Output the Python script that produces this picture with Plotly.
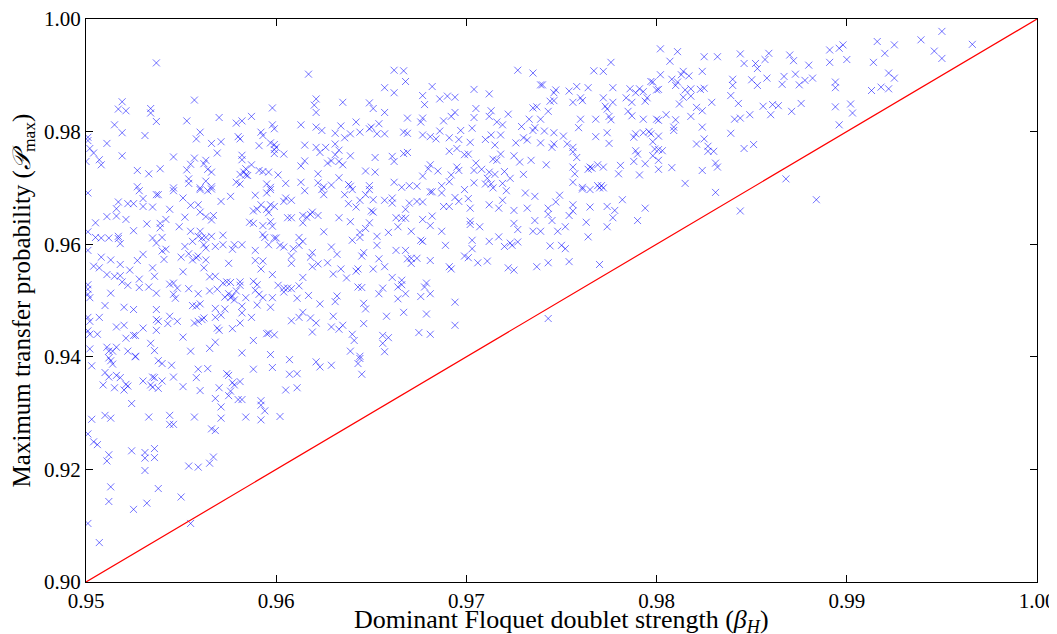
import plotly.graph_objects as go

# (beta_H, P_max) pairs, grouped by region
upper_left = [
(0.9537,0.9922),(0.9519,0.9853),(0.9517,0.9840),(0.9521,0.9837),(0.9534,0.9841),(0.9534,0.9833),
(0.9537,0.9818),(0.9557,0.9856),(0.9553,0.9819),(0.9570,0.9825),(0.9579,0.9815),(0.9582,0.9819),
(0.9587,0.9827),(0.9598,0.9842),(0.9515,0.9812),(0.9519,0.9798),(0.9531,0.9793),(0.9560,0.9799),
(0.9558,0.9787),(0.9580,0.9791),(0.9581,0.9787),(0.9592,0.9799),(0.9593,0.9793),(0.9598,0.9812),
(0.9599,0.9805),(0.9501,0.9790),(0.9501,0.9784),(0.9511,0.9779),(0.9502,0.9770),(0.9504,0.9762),
(0.9507,0.9750),(0.9508,0.9741),(0.9500,0.9747),(0.9519,0.9757),(0.9546,0.9755),(0.9566,0.9779),
(0.9571,0.9782),(0.9569,0.9762),(0.9591,0.9775),(0.9597,0.9780),(0.9599,0.9777),(0.9599,0.9768),
(0.9599,0.9761),(0.9557,0.9753),(0.9555,0.9742),(0.9563,0.9749),(0.9562,0.9743),(0.9553,0.9732),
(0.9564,0.9733),(0.9566,0.9728),(0.9582,0.9758),(0.9582,0.9750),(0.9587,0.9741),(0.9584,0.9734),
(0.9583,0.9728),(0.9581,0.9724),(0.9584,0.9723),(0.9585,0.9722),(0.9591,0.9731),(0.9593,0.9729),
(0.9596,0.9728),(0.9527,0.9731),(0.9533,0.9725),(0.9539,0.9734),(0.9554,0.9716),(0.9554,0.9708),
(0.9563,0.9712),(0.9560,0.9700),(0.9566,0.9702),(0.9579,0.9710),(0.9581,0.9707),(0.9595,0.9707),
(0.9597,0.9701),(0.9527,0.9702),(0.9546,0.9700),
]

middle_left = [
(0.9528,0.9695),(0.9537,0.9688),(0.9538,0.9688),(0.9546,0.9695),(0.9560,0.9697),(0.9564,0.9695),
(0.9566,0.9698),(0.9501,0.9691),(0.9576,0.9685),(0.9589,0.9687),(0.9595,0.9691),(0.9597,0.9697),
(0.9517,0.9675),(0.9516,0.9663),(0.9522,0.9672),(0.9525,0.9672),(0.9530,0.9681),(0.9530,0.9667),
(0.9535,0.9666),(0.9544,0.9662),(0.9551,0.9682),(0.9555,0.9669),(0.9559,0.9670),(0.9560,0.9657),
(0.9563,0.9649),(0.9567,0.9651),(0.9566,0.9643),(0.9571,0.9676),(0.9588,0.9659),(0.9590,0.9662),
(0.9592,0.9670),(0.9595,0.9662),(0.9596,0.9656),(0.9597,0.9670),(0.9599,0.9667),(0.9511,0.9649),
(0.9516,0.9650),(0.9521,0.9644),(0.9505,0.9638),(0.9532,0.9636),(0.9539,0.9637),(0.9542,0.9644),
(0.9539,0.9629),(0.9549,0.9631),(0.9552,0.9648),(0.9586,0.9639),(0.9588,0.9637),(0.9593,0.9633),
(0.9597,0.9640),(0.9598,0.9632),(0.9501,0.9622),(0.9505,0.9612),(0.9508,0.9611),(0.9512,0.9611),
(0.9517,0.9614),(0.9517,0.9610),(0.9518,0.9601),(0.9525,0.9624),(0.9535,0.9611),(0.9537,0.9602),
(0.9540,0.9612),(0.9540,0.9588),(0.9542,0.9591),(0.9555,0.9623),(0.9556,0.9605),(0.9560,0.9623),
(0.9559,0.9614),(0.9561,0.9611),(0.9563,0.9612),(0.9566,0.9614),(0.9562,0.9599),(0.9563,0.9593),
(0.9568,0.9596),(0.9572,0.9616),(0.9572,0.9599),(0.9577,0.9591),(0.9578,0.9599),(0.9582,0.9599),
(0.9589,0.9589),(0.9593,0.9617),(0.9594,0.9612),(0.9596,0.9599),(0.9599,0.9611),(0.9501,0.9589),
(0.9508,0.9577),(0.9513,0.9572),(0.9518,0.9564),(0.9527,0.9571),(0.9530,0.9582),(0.9541,0.9573),
(0.9550,0.9577),(0.9552,0.9596),(0.9554,0.9583),(0.9556,0.9572),(0.9558,0.9576),(0.9559,0.9579),
(0.9563,0.9572),(0.9562,0.9558),(0.9575,0.9566),(0.9589,0.9571),(0.9592,0.9556),(0.9593,0.9570),
(0.9598,0.9546),(0.9504,0.9561),(0.9507,0.9558),(0.9523,0.9554),(0.9535,0.9558),(0.9536,0.9543),
(0.9551,0.9551),(0.9511,0.9546),(0.9515,0.9543),(0.9518,0.9544),(0.9519,0.9533),(0.9528,0.9538),
(0.9528,0.9523),(0.9522,0.9527),(0.9533,0.9524),(0.9537,0.9513),(0.9544,0.9529),(0.9546,0.9531),
(0.9548,0.9522),(0.9546,0.9511),(0.9547,0.9504),(0.9554,0.9521),(0.9559,0.9512),(0.9565,0.9542),
(0.9568,0.9543),(0.9565,0.9517),(0.9569,0.9520),(0.9572,0.9531),(0.9574,0.9533),(0.9576,0.9532),
(0.9581,0.9533),(0.9581,0.9527),(0.9579,0.9517),(0.9573,0.9506),(0.9575,0.9512),(0.9576,0.9505),
(0.9577,0.9508),(0.9578,0.9501),(0.9584,0.9505),(0.9588,0.9534),(0.9590,0.9528),(0.9589,0.9518),
(0.9591,0.9511),(0.9593,0.9505),(0.9598,0.9505),(0.9501,0.9528),(0.9501,0.9520),(0.9501,0.9511),
(0.9502,0.9505),(0.9513,0.9513),(0.9510,0.9491),(0.9520,0.9488),(0.9525,0.9484),(0.9537,0.9484),
(0.9556,0.9491),(0.9560,0.9494),(0.9558,0.9490),(0.9568,0.9486),(0.9573,0.9485),(0.9582,0.9490),
(0.9582,0.9478),(0.9590,0.9492),(0.9597,0.9488),(0.9501,0.9470),(0.9502,0.9463),(0.9507,0.9470),
(0.9537,0.9466),(0.9538,0.9463),(0.9544,0.9472),(0.9543,0.9459),(0.9548,0.9463),(0.9557,0.9460),
(0.9559,0.9463),(0.9561,0.9466),(0.9562,0.9469),(0.9568,0.9470),(0.9569,0.9451),(0.9571,0.9474),
(0.9570,0.9447),(0.9581,0.9460),(0.9587,0.9470),(0.9516,0.9453),(0.9520,0.9456),(0.9530,0.9451),
(0.9537,0.9447),(0.9501,0.9446),(0.9502,0.9440),(0.9506,0.9440),(0.9521,0.9433),(0.9525,0.9438),
(0.9526,0.9438),(0.9551,0.9435),(0.9577,0.9450),(0.9588,0.9429),(0.9595,0.9441),(0.9596,0.9442),
(0.9599,0.9439),(0.9502,0.9414),(0.9511,0.9417),(0.9512,0.9410),(0.9514,0.9410),(0.9516,0.9417),
(0.9522,0.9410),(0.9526,0.9401),(0.9534,0.9424),(0.9536,0.9411),(0.9555,0.9410),(0.9565,0.9415),
(0.9568,0.9426),(0.9582,0.9407),(0.9597,0.9404),
]

lower_left = [
(0.9512,0.9398),(0.9513,0.9393),(0.9514,0.9387),(0.9526,0.9400),(0.9503,0.9384),(0.9538,0.9393),
(0.9540,0.9388),(0.9545,0.9385),(0.9559,0.9378),(0.9564,0.9379),(0.9574,0.9370),(0.9575,0.9367),
(0.9588,0.9378),(0.9598,0.9381),(0.9510,0.9372),(0.9512,0.9364),(0.9516,0.9367),(0.9518,0.9363),
(0.9530,0.9357),(0.9535,0.9364),(0.9536,0.9363),(0.9540,0.9357),(0.9546,0.9364),(0.9558,0.9363),
(0.9581,0.9356),(0.9577,0.9354),(0.9578,0.9350),(0.9509,0.9350),(0.9515,0.9345),(0.9520,0.9341),
(0.9521,0.9351),(0.9522,0.9348),(0.9534,0.9350),(0.9535,0.9346),(0.9538,0.9344),(0.9551,0.9347),
(0.9560,0.9340),(0.9570,0.9345),(0.9576,0.9339),(0.9575,0.9331),(0.9580,0.9324),(0.9582,0.9324),
(0.9568,0.9326),(0.9571,0.9311),(0.9592,0.9322),(0.9592,0.9314),(0.9594,0.9304),(0.9524,0.9317),
(0.9503,0.9289),(0.9510,0.9296),(0.9513,0.9291),(0.9533,0.9293),(0.9544,0.9296),(0.9544,0.9280),
(0.9546,0.9280),(0.9557,0.9293),(0.9571,0.9291),(0.9584,0.9293),(0.9592,0.9288),(0.9566,0.9272),
(0.9568,0.9269),(0.9501,0.9263),(0.9504,0.9249),(0.9506,0.9244),(0.9512,0.9226),(0.9511,0.9215),
(0.9524,0.9233),(0.9531,0.9230),(0.9531,0.9220),(0.9536,0.9237),(0.9536,0.9221),(0.9531,0.9198),
(0.9554,0.9206),(0.9559,0.9204),(0.9565,0.9211),(0.9567,0.9222),(0.9513,0.9169),(0.9512,0.9143),
(0.9538,0.9166),(0.9550,0.9151),(0.9525,0.9129),(0.9532,0.9140),(0.9501,0.9104),(0.9555,0.9104),
(0.9507,0.9070),
(0.9607,0.9395),(0.9621,0.9391),(0.9623,0.9382),(0.9629,0.9385),(0.9644,0.9397),(0.9643,0.9388),
(0.9607,0.9369),(0.9611,0.9370),(0.9645,0.9369),(0.9605,0.9341),(0.9611,0.9345),(0.9602,0.9294),
]

upper_centre = [
(0.9617,0.9902),(0.9662,0.9909),(0.9667,0.9908),(0.9668,0.9889),(0.9657,0.9878),(0.9662,0.9869),
(0.9682,0.9880),(0.9677,0.9864),(0.9678,0.9848),(0.9686,0.9858),(0.9690,0.9863),(0.9694,0.9861),
(0.9621,0.9858),(0.9620,0.9847),(0.9621,0.9834),(0.9635,0.9852),(0.9649,0.9851),(0.9651,0.9841),
(0.9657,0.9834),(0.9613,0.9812),(0.9621,0.9808),(0.9624,0.9802),(0.9634,0.9810),(0.9631,0.9797),
(0.9636,0.9789),(0.9639,0.9796),(0.9642,0.9817),(0.9644,0.9799),(0.9649,0.9805),(0.9650,0.9808),
(0.9654,0.9814),(0.9653,0.9796),(0.9657,0.9796),(0.9669,0.9824),(0.9667,0.9799),(0.9669,0.9797),
(0.9677,0.9824),(0.9676,0.9817),(0.9677,0.9794),(0.9681,0.9791),(0.9684,0.9787),(0.9686,0.9801),
(0.9688,0.9819),(0.9692,0.9827),(0.9694,0.9834),(0.9697,0.9802),(0.9691,0.9789),(0.9696,0.9786),
(0.9600,0.9772),(0.9604,0.9760),(0.9615,0.9776),(0.9621,0.9772),(0.9626,0.9772),(0.9623,0.9763),
(0.9631,0.9778),(0.9633,0.9767),(0.9631,0.9759),(0.9639,0.9757),(0.9652,0.9754),(0.9661,0.9756),
(0.9662,0.9747),(0.9667,0.9761),(0.9669,0.9763),(0.9613,0.9739),(0.9615,0.9748),(0.9627,0.9744),
(0.9629,0.9748),(0.9633,0.9747),(0.9635,0.9741),(0.9691,0.9765),(0.9695,0.9770),(0.9699,0.9759),
(0.9601,0.9723),(0.9622,0.9725),(0.9633,0.9718),(0.9647,0.9730),(0.9652,0.9728),(0.9681,0.9741),
(0.9680,0.9734),(0.9685,0.9730),(0.9677,0.9721),(0.9692,0.9723),(0.9695,0.9737),(0.9696,0.9731),
(0.9605,0.9708),(0.9613,0.9710),(0.9622,0.9709),(0.9625,0.9702),(0.9629,0.9705),(0.9638,0.9706),
(0.9639,0.9703),(0.9649,0.9704),(0.9662,0.9710),(0.9666,0.9701),(0.9670,0.9704),(0.9674,0.9703),
(0.9687,0.9704),(0.9691,0.9711),
]

middle_centre = [
(0.9615,0.9695),(0.9624,0.9697),(0.9625,0.9688),(0.9636,0.9688),(0.9647,0.9688),(0.9649,0.9697),
(0.9640,0.9697),(0.9605,0.9682),(0.9604,0.9676),(0.9608,0.9678),(0.9638,0.9672),(0.9642,0.9666),
(0.9644,0.9678),(0.9651,0.9679),(0.9657,0.9678),(0.9661,0.9682),(0.9661,0.9673),(0.9670,0.9673),
(0.9668,0.9662),(0.9674,0.9676),(0.9677,0.9675),(0.9681,0.9693),(0.9682,0.9693),(0.9687,0.9691),
(0.9694,0.9683),(0.9696,0.9676),(0.9688,0.9667),(0.9691,0.9667),(0.9699,0.9697),(0.9606,0.9647),
(0.9608,0.9647),(0.9614,0.9651),(0.9614,0.9638),(0.9616,0.9648),(0.9618,0.9653),(0.9619,0.9657),
(0.9622,0.9651),(0.9633,0.9647),(0.9639,0.9640),(0.9649,0.9638),(0.9650,0.9659),(0.9651,0.9657),
(0.9663,0.9647),(0.9666,0.9646),(0.9668,0.9646),(0.9677,0.9644),(0.9682,0.9650),(0.9681,0.9633),
(0.9664,0.9631),(0.9647,0.9628),(0.9644,0.9621),(0.9644,0.9612),(0.9640,0.9607),(0.9625,0.9622),
(0.9653,0.9614),(0.9659,0.9621),(0.9671,0.9623),(0.9676,0.9607),(0.9677,0.9605),(0.9687,0.9623),
(0.9689,0.9598),(0.9600,0.9611),(0.9612,0.9612),(0.9614,0.9605),(0.9602,0.9598),(0.9604,0.9595),
(0.9609,0.9592),(0.9612,0.9598),(0.9619,0.9585),(0.9618,0.9577),(0.9608,0.9579),(0.9608,0.9566),
(0.9629,0.9595),(0.9632,0.9582),(0.9627,0.9567),(0.9622,0.9565),(0.9619,0.9560),(0.9630,0.9547),
(0.9634,0.9556),(0.9637,0.9540),(0.9642,0.9552),(0.9643,0.9556),(0.9646,0.9585),(0.9645,0.9579),
(0.9651,0.9556),(0.9653,0.9598),(0.9654,0.9574),(0.9657,0.9560),(0.9663,0.9589),(0.9668,0.9589),
(0.9669,0.9574),(0.9671,0.9575),(0.9671,0.9566),(0.9674,0.9575),(0.9681,0.9571),(0.9691,0.9560),
(0.9692,0.9556),(0.9699,0.9579),(0.9614,0.9541),(0.9601,0.9527),(0.9604,0.9522),(0.9604,0.9515),
(0.9606,0.9522),(0.9608,0.9521),(0.9612,0.9526),(0.9611,0.9504),(0.9617,0.9509),(0.9623,0.9494),
(0.9631,0.9498),(0.9632,0.9508),(0.9643,0.9524),(0.9645,0.9523),(0.9646,0.9495),(0.9647,0.9485),
(0.9656,0.9522),(0.9654,0.9512),(0.9661,0.9541),(0.9664,0.9524),(0.9666,0.9536),(0.9666,0.9528),
(0.9668,0.9512),(0.9664,0.9503),(0.9676,0.9507),(0.9679,0.9531),(0.9678,0.9524),(0.9681,0.9512),
(0.9694,0.9497),(0.9608,0.9464),(0.9612,0.9470),(0.9614,0.9479),(0.9618,0.9469),(0.9621,0.9460),
(0.9619,0.9444),(0.9630,0.9472),(0.9629,0.9453),(0.9633,0.9449),(0.9635,0.9456),(0.9640,0.9440),
(0.9641,0.9429),(0.9646,0.9459),(0.9658,0.9472),(0.9667,0.9479),(0.9679,0.9476),(0.9694,0.9456),
(0.9675,0.9443),(0.9681,0.9440),(0.9656,0.9438),(0.9659,0.9434),(0.9656,0.9424),(0.9657,0.9409),
(0.9639,0.9410),(0.9644,0.9401),
]

upper_right_centre = [
(0.9727,0.9909),(0.9735,0.9904),(0.9767,0.9908),(0.9772,0.9907),(0.9776,0.9923),(0.9704,0.9875),
(0.9712,0.9867),(0.9739,0.9883),(0.9740,0.9883),(0.9747,0.9874),(0.9746,0.9869),(0.9754,0.9872),
(0.9758,0.9880),(0.9764,0.9878),(0.9777,0.9878),(0.9786,0.9876),(0.9789,0.9869),(0.9791,0.9876),
(0.9793,0.9871),(0.9797,0.9889),(0.9798,0.9888),(0.9800,0.9874),(0.9744,0.9854),(0.9746,0.9855),
(0.9756,0.9852),(0.9760,0.9860),(0.9761,0.9855),(0.9772,0.9860),(0.9777,0.9852),(0.9784,0.9860),
(0.9787,0.9852),(0.9795,0.9860),(0.9794,0.9854),(0.9705,0.9841),(0.9713,0.9837),(0.9704,0.9825),
(0.9712,0.9827),(0.9722,0.9831),(0.9735,0.9842),(0.9737,0.9844),(0.9743,0.9836),(0.9733,0.9822),
(0.9739,0.9822),(0.9760,0.9822),(0.9768,0.9822),(0.9773,0.9845),(0.9774,0.9840),(0.9775,0.9827),
(0.9776,0.9821),(0.9785,0.9836),(0.9787,0.9828),(0.9793,0.9822),(0.9800,0.9822),(0.9703,0.9806),
(0.9716,0.9817),(0.9719,0.9812),(0.9729,0.9809),(0.9736,0.9807),(0.9735,0.9802),(0.9741,0.9801),
(0.9746,0.9798),(0.9751,0.9792),(0.9759,0.9807),(0.9768,0.9791),(0.9774,0.9798),(0.9789,0.9796),
(0.9793,0.9798),(0.9796,0.9800),(0.9797,0.9796),(0.9798,0.9782),(0.9799,0.9769),(0.9710,0.9786),
(0.9713,0.9794),(0.9718,0.9794),(0.9730,0.9789),(0.9732,0.9785),(0.9726,0.9780),(0.9739,0.9780),
(0.9746,0.9778),(0.9745,0.9772),(0.9753,0.9778),(0.9756,0.9772),(0.9756,0.9764),(0.9758,0.9754),
(0.9775,0.9779),(0.9788,0.9790),(0.9789,0.9766),(0.9790,0.9760),(0.9788,0.9747),(0.9794,0.9743),
(0.9798,0.9757),(0.9702,0.9781),(0.9701,0.9760),(0.9715,0.9776),(0.9718,0.9760),(0.9716,0.9749),
(0.9714,0.9751),(0.9725,0.9757),(0.9728,0.9746),(0.9734,0.9749),(0.9742,0.9741),(0.9756,0.9737),
(0.9757,0.9725),(0.9764,0.9733),(0.9765,0.9737),(0.9766,0.9735),(0.9769,0.9741),(0.9772,0.9737),
(0.9781,0.9740),(0.9780,0.9725),(0.9791,0.9723),(0.9705,0.9744),(0.9704,0.9731),(0.9708,0.9733),
(0.9712,0.9728),(0.9715,0.9724),(0.9711,0.9717),(0.9710,0.9707),(0.9713,0.9707),(0.9719,0.9708),
(0.9720,0.9729),(0.9723,0.9717),(0.9730,0.9724),(0.9704,0.9709),(0.9756,0.9710),(0.9761,0.9701),
(0.9769,0.9704),(0.9771,0.9704),
]

middle_right_centre = [
(0.9714,0.9700),(0.9721,0.9695),(0.9731,0.9691),(0.9736,0.9685),(0.9761,0.9698),(0.9765,0.9697),
(0.9770,0.9700),(0.9772,0.9700),(0.9701,0.9681),(0.9702,0.9664),(0.9712,0.9670),(0.9717,0.9664),
(0.9719,0.9678),(0.9725,0.9660),(0.9732,0.9664),(0.9743,0.9664),(0.9747,0.9675),(0.9749,0.9687),
(0.9756,0.9670),(0.9756,0.9659),(0.9754,0.9651),(0.9765,0.9666),(0.9774,0.9667),(0.9778,0.9660),
(0.9782,0.9679),(0.9794,0.9664),(0.9777,0.9647),(0.9790,0.9642),(0.9702,0.9641),(0.9702,0.9635),
(0.9707,0.9631),(0.9725,0.9637),(0.9727,0.9626),(0.9736,0.9642),(0.9743,0.9653),(0.9745,0.9642),
(0.9752,0.9631),(0.9748,0.9623),(0.9735,0.9623),(0.9739,0.9623),(0.9763,0.9639),(0.9774,0.9631),
(0.9703,0.9607),(0.9703,0.9592),(0.9712,0.9605),(0.9717,0.9613),(0.9720,0.9596),(0.9723,0.9602),
(0.9724,0.9598),(0.9727,0.9604),(0.9744,0.9597),(0.9750,0.9598),(0.9752,0.9592),(0.9764,0.9613),
(0.9701,0.9576),(0.9706,0.9567),(0.9711,0.9570),(0.9722,0.9558),(0.9725,0.9554),(0.9737,0.9560),
(0.9743,0.9567),(0.9754,0.9569),(0.9770,0.9564),(0.9743,0.9468),
]

right = [
(0.9802,0.9947),(0.9811,0.9942),(0.9807,0.9925),(0.9825,0.9933),(0.9832,0.9933),(0.9844,0.9938),
(0.9846,0.9921),(0.9852,0.9921),(0.9853,0.9912),(0.9857,0.9928),(0.9859,0.9939),(0.9870,0.9936),
(0.9872,0.9926),(0.9880,0.9918),(0.9891,0.9945),(0.9896,0.9948),(0.9898,0.9954),(0.9891,0.9923),
(0.9900,0.9928),(0.9802,0.9901),(0.9808,0.9893),(0.9811,0.9888),(0.9810,0.9882),(0.9813,0.9901),
(0.9814,0.9907),(0.9817,0.9899),(0.9824,0.9907),(0.9840,0.9893),(0.9840,0.9882),(0.9850,0.9892),
(0.9853,0.9882),(0.9858,0.9895),(0.9867,0.9898),(0.9866,0.9884),(0.9873,0.9902),(0.9875,0.9883),
(0.9878,0.9891),(0.9882,0.9895),(0.9894,0.9888),(0.9894,0.9878),(0.9801,0.9875),(0.9815,0.9874),
(0.9818,0.9876),(0.9823,0.9875),(0.9825,0.9877),(0.9814,0.9861),(0.9818,0.9863),(0.9812,0.9849),
(0.9821,0.9843),(0.9824,0.9837),(0.9829,0.9852),(0.9839,0.9864),(0.9843,0.9850),(0.9856,0.9845),
(0.9861,0.9848),(0.9864,0.9846),(0.9860,0.9830),(0.9871,0.9836),(0.9876,0.9850),(0.9894,0.9844),
(0.9805,0.9830),(0.9818,0.9827),(0.9801,0.9820),(0.9810,0.9821),(0.9809,0.9808),(0.9809,0.9802),
(0.9824,0.9808),(0.9841,0.9822),(0.9844,0.9824),(0.9849,0.9830),(0.9896,0.9812),(0.9801,0.9792),
(0.9839,0.9797),(0.9825,0.9787),(0.9821,0.9778),(0.9827,0.9774),(0.9827,0.9765),(0.9830,0.9765),
(0.9846,0.9770),(0.9851,0.9777),(0.9801,0.9768),(0.9803,0.9766),(0.9801,0.9749),(0.9801,0.9733),
(0.9808,0.9736),(0.9824,0.9731),(0.9831,0.9744),(0.9832,0.9737),(0.9815,0.9708),(0.9868,0.9716),
(0.9831,0.9692),(0.9844,0.9659),(0.9884,0.9679),
(0.9916,0.9960),(0.9925,0.9954),(0.9920,0.9939),(0.9914,0.9923),(0.9939,0.9963),(0.9950,0.9978),
(0.9946,0.9943),(0.9950,0.9930),(0.9966,0.9955),(0.9922,0.9904),(0.9925,0.9895),(0.9913,0.9873),
(0.9918,0.9879),(0.9922,0.9876),(0.9902,0.9849),(0.9903,0.9833),
]

samples = (upper_left + middle_left + lower_left + upper_centre + middle_centre
           + upper_right_centre + middle_right_centre + right)
beta_h = [p[0] for p in samples]
p_max = [p[1] for p in samples]

# reference diagonal
diag_x = [0.95, 1.00]
diag_y = [0.90, 1.00]

x_ticks = [0.95, 0.96, 0.97, 0.98, 0.99, 1.00]
y_ticks = [0.90, 0.92, 0.94, 0.96, 0.98, 1.00]

x_title = "Dominant Floquet doublet strength (<i>β</i><sub><i>H</i></sub>)"
y_title = "Maximum transfer probability (<i>𝒫</i><sub>max</sub>)"

serif = "Liberation Serif, DejaVu Serif, serif"

fig = go.Figure()
fig.add_trace(go.Scatter(
    x=beta_h, y=p_max, mode="markers",
    marker=dict(symbol="x-thin", size=7, color="rgba(0,0,255,0.55)",
                line=dict(width=1, color="rgba(0,0,255,0.55)")),
    showlegend=False, hoverinfo="skip"))
fig.add_trace(go.Scatter(
    x=diag_x, y=diag_y, mode="lines",
    line=dict(color="#ff0000", width=1.2), showlegend=False, hoverinfo="skip"))

axis_common = dict(
    showgrid=False, zeroline=False, showline=True, linecolor="black", linewidth=1,
    mirror="ticks", ticks="inside", ticklen=7, tickwidth=1, tickcolor="black",
    tickfont=dict(family=serif, size=21, color="black"), automargin=False,
    ticklabeloverflow="allow",
)
fig.update_xaxes(range=[0.95, 1.00], tickvals=x_ticks,
                 ticktext=[f"{v:.2f}" for v in x_ticks], **axis_common)
fig.update_yaxes(range=[0.90, 1.00], tickvals=y_ticks,
                 ticktext=[f"{v:.2f}" for v in y_ticks],
                 title=dict(text=y_title,
                            font=dict(family=serif, size=25, color="black"), standoff=6),
                 **axis_common)
# x-axis title placed just under the tick labels
fig.add_annotation(text=x_title, xref="paper", yref="paper", x=0.5, y=0,
                   xanchor="center", yanchor="top", yshift=-22, borderpad=0,
                   showarrow=False, font=dict(family=serif, size=26, color="black"))
# the page body adds an 8 px offset, so the figure is 8 px smaller and margins shifted
fig.update_layout(
    width=1049, height=626,
    margin=dict(l=78, r=20, t=11, b=52),
    paper_bgcolor="white", plot_bgcolor="white",
    font=dict(family=serif, color="black"),
)
fig.write_html("out.html")
